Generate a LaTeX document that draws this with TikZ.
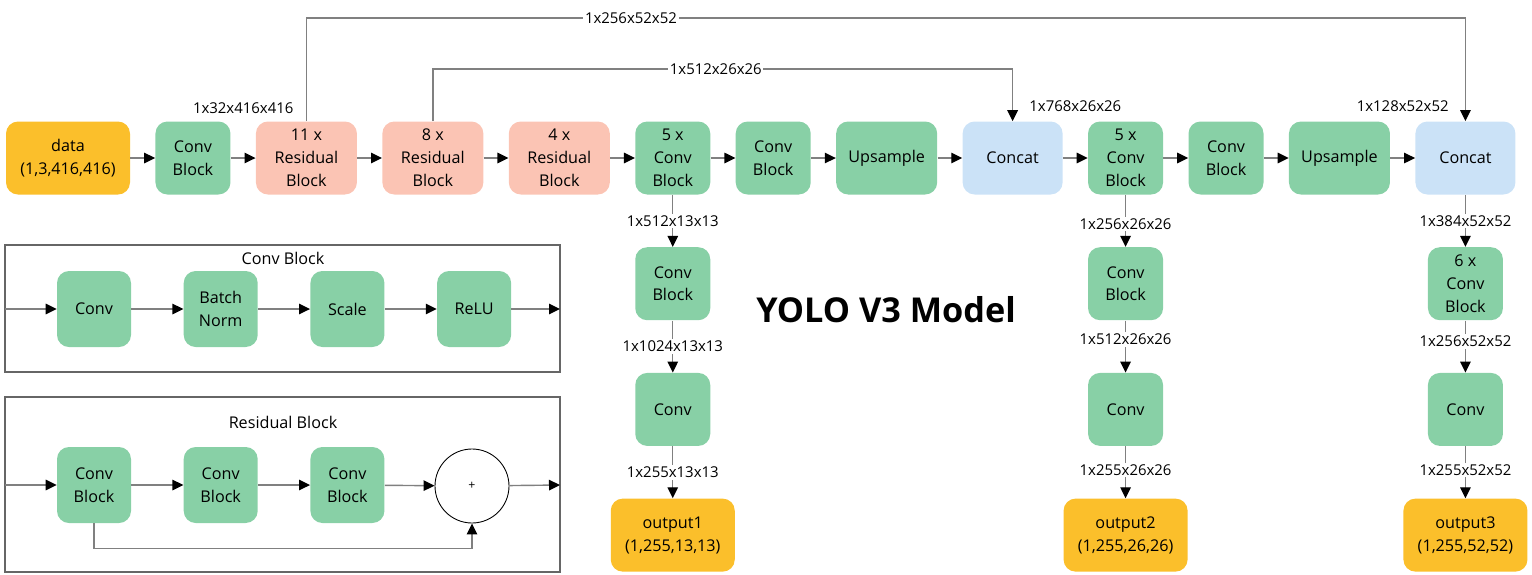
\documentclass[tikz,border=0pt]{standalone}
\usepackage{fontspec}
\setmainfont{Open Sans}
\usetikzlibrary{
positioning,%
calc,%
arrows.meta
}
\definecolor{convgreen}{HTML}{88D0A6}
\definecolor{resred}{HTML}{FBC4B4}
\definecolor{ioyellow}{HTML}{FBBF2B}
\definecolor{catblue}{HTML}{CBE2F7}
\tikzset{
    blk/.style={rounded corners=0.24cm, align=center, minimum height=1.46cm, inner sep=1pt, font=\fontsize{9.2}{13}\selectfont},
    conv/.style={blk, fill=convgreen, minimum width=1.5cm},
    wideop/.style={blk, fill=convgreen, minimum width=2.02cm},
    resid/.style={blk, fill=resred, minimum width=2.02cm},
    cat/.style={blk, fill=catblue, minimum width=2.0cm},
    io/.style={blk, fill=ioyellow, minimum width=2.48cm},
    lgnd/.style={blk, fill=convgreen, minimum width=1.48cm, minimum height=1.52cm},
    flow/.style={draw=black!50, line width=0.8pt, -{Triangle[black, length=0.22cm, width=0.21cm]}},
    wire/.style={draw=black!50, line width=0.8pt},
    dims/.style={fill=white, inner sep=1pt, font=\fontsize{8.5}{10}\selectfont},
    lbl/.style={inner sep=1pt, font=\fontsize{8.5}{10}\selectfont},
    frame/.style={draw=black!60, line width=0.6pt}
}

\begin{document}
\begin{tikzpicture}
            \useasboundingbox (0,0) rectangle (30.64,-11.48);
            % ---- main row
            \node[io] (data) at (1.36,-3.16) {data\\(1,3,416,416)};
            \node[conv, right = 0.495cm of data] (cb1) {Conv\\Block};
            \node[resid, right = 0.495cm of cb1] (res11) {11 x\\Residual\\Block};
            \node[resid, right = 0.495cm of res11] (res8) {8 x\\Residual\\Block};
            \node[resid, right = 0.495cm of res8] (res4) {4 x\\Residual\\Block};
            \node[conv, right = 0.495cm of res4] (cb5a) {5 x\\Conv\\Block};
            \node[conv, right = 0.495cm of cb5a] (cb2) {Conv\\Block};
            \node[wideop, right = 0.495cm of cb2] (up1) {Upsample};
            \node[cat, right = 0.495cm of up1] (cat1) {Concat};
            \node[conv, right = 0.495cm of cat1] (cb5b) {5 x\\Conv\\Block};
            \node[conv, right = 0.495cm of cb5b] (cb3) {Conv\\Block};
            \node[wideop, right = 0.495cm of cb3] (up2) {Upsample};
            \node[cat, right = 0.495cm of up2] (cat2) {Concat};
            % ---- output columns
            \node[conv, below = 1.04cm of cb5a] (c1blk) {Conv\\Block};
            \node[conv, below = 1.04cm of c1blk] (c1conv) {Conv};
            \node[io, below = 1.04cm of c1conv] (out1) {output1\\(1,255,13,13)};
            \node[conv, below = 1.04cm of cb5b] (c2blk) {Conv\\Block};
            \node[conv, below = 1.04cm of c2blk] (c2conv) {Conv};
            \node[io, below = 1.04cm of c2conv] (out2) {output2\\(1,255,26,26)};
            \node[conv, below = 1.04cm of cat2] (cb6) {6 x\\Conv\\Block};
            \node[conv, below = 1.04cm of cb6] (c3conv) {Conv};
            \node[io, below = 1.04cm of c3conv] (out3) {output3\\(1,255,52,52)};
            \node[font=\bfseries\fontsize{19.5}{22}\selectfont] (title) at (17.72,-6.2) {YOLO V3 Model};
            % ---- main row arrows
            \draw[flow] (data) -- (cb1);
            \draw[flow] (cb1) -- node[lbl, yshift=1.0cm] {1x32x416x416} (res11);
            \draw[flow] (res11) -- (res8);
            \draw[flow] (res8) -- (res4);
            \draw[flow] (res4) -- (cb5a);
            \draw[flow] (cb5a) -- (cb2);
            \draw[flow] (cb2) -- (up1);
            \draw[flow] (up1) -- (cat1);
            \draw[flow] (cat1) -- node[lbl, yshift=1.04cm] {1x768x26x26} (cb5b);
            \draw[flow] (cb5b) -- (cb3);
            \draw[flow] (cb3) -- (up2);
            \draw[flow] (up2) -- node[lbl, yshift=1.04cm] {1x128x52x52} (cat2);
            % ---- skip routes
            \coordinate (top1) at (0,-0.36);
            \coordinate (top2) at (0,-1.38);
            \draw[flow] (res11.north) |- node[dims, pos=0.64] {1x256x52x52} (cat2.north |- top1) -- (cat2.north);
            \draw[flow] (res8.north) |- node[dims, pos=0.744] {1x512x26x26} (cat1.north |- top2) -- (cat1.north);
            % ---- columns
            \draw[flow] (cb5a) -- node[dims] {1x512x13x13} (c1blk);
            \draw[flow] (c1blk) -- node[dims] {1x1024x13x13} (c1conv);
            \draw[flow] (c1conv) -- node[dims] {1x255x13x13} (out1);
            \draw[flow] (cb5b) -- node[dims, pos=0.56] {1x256x26x26} (c2blk);
            \draw[flow] (c2blk) -- node[dims, pos=0.36] {1x512x26x26} (c2conv);
            \draw[flow] (c2conv) -- node[dims, pos=0.46] {1x255x26x26} (out2);
            \draw[flow] (cat2) -- node[dims] {1x384x52x52} (cb6);
            \draw[flow] (cb6) -- node[dims, pos=0.4] {1x256x52x52} (c3conv);
            \draw[flow] (c3conv) -- node[dims, pos=0.46] {1x255x52x52} (out3);
            % ---- legend: conv block
            \draw[frame] (0.1,-4.9) rectangle (11.2,-7.44);
            \node[lbl, font=\fontsize{9.2}{10}\selectfont] (cbtitle) at (5.66,-5.16) {Conv Block};
            \node[lgnd] (lconv) at (1.88,-6.18) {Conv};
            \node[lgnd, right = 1.04cm of lconv] (lbn) {Batch\\Norm};
            \node[lgnd, right = 1.04cm of lbn] (lscale) {Scale};
            \node[lgnd, right = 1.04cm of lscale] (lrelu) {ReLU};
            \coordinate (cbin) at (0.1,-6.18);
            \coordinate (cbout) at (11.2,-6.18);
            \draw[flow] (cbin) -- (lconv);
            \draw[flow] (lconv) -- (lbn);
            \draw[flow] (lbn) -- (lscale);
            \draw[flow] (lscale) -- (lrelu);
            \draw[flow] (lrelu) -- (cbout);
            % ---- legend: residual block
            \draw[frame] (0.1,-7.94) rectangle (11.2,-11.44);
            \node[lbl, font=\fontsize{9.2}{10}\selectfont] (rbtitle) at (5.66,-8.44) {Residual Block};
            \node[lgnd] (rb1) at (1.88,-9.7) {Conv\\Block};
            \node[lgnd, right = 1.04cm of rb1] (rb2) {Conv\\Block};
            \node[lgnd, right = 1.04cm of rb2] (rb3) {Conv\\Block};
            \node[draw, circle, line width=0.5pt, minimum size=1.48cm, inner sep=0pt, font=\fontsize{7}{8}\selectfont] (plus) at (9.44,-9.72) {+};
            \coordinate (rbin) at (0.1,-9.7);
            \coordinate (rbout) at (11.2,-9.7);
            \draw[flow] (rbin) -- (rb1);
            \draw[flow] (rb1) -- (rb2);
            \draw[flow] (rb2) -- (rb3);
            \draw[flow] (rb3) -- (plus);
            \draw[flow] (plus) -- (rbout);
            \draw[flow] (rb1.south) -- ++(0,-0.5) -| (plus.south);
\end{tikzpicture}
\end{document}
